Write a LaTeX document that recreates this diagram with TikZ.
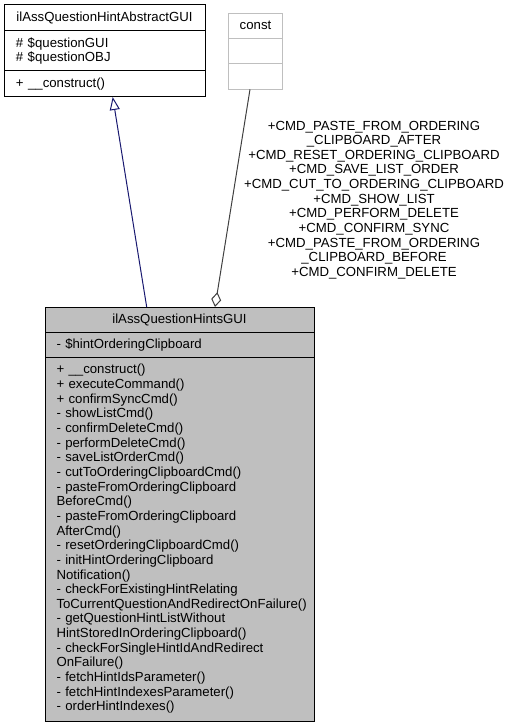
\documentclass[tikz,border=0pt]{standalone}
\usepackage{fontspec}
\usepackage{tikz}
\usetikzlibrary{arrows.meta,
                positioning}
\newfontfamily\dxsans{Liberation Sans}
\newcommand{\dxfont}{\dxsans\fontsize{13.2}{14.65}\selectfont}
\definecolor{grey75}{RGB}{191,191,191}
\definecolor{grey25}{RGB}{64,64,64}
\definecolor{midnightblue}{RGB}{25,25,112}
\tikzset{
        classrow/.style={draw, rectangle, outer sep=0pt, inner ysep=0pt,
                         line width=1pt, font=\dxfont},
        absrow/.style={classrow, inner xsep=12pt, text width=177pt, align=left},
        abstitle/.style={absrow, align=center, minimum height=26pt},
        hintrow/.style={classrow, fill=grey75, inner xsep=11.5pt, text width=246pt,
                        align=left},
        hinttitle/.style={hintrow, align=center, minimum height=25pt},
        constrow/.style={classrow, draw=grey75, inner xsep=0pt, text width=54.4pt,
                         align=center, minimum height=25pt},
        inherit/.style={-{Triangle[open, length=13pt, width=10pt]}, midnightblue,
                        line width=1pt},
        aggr/.style={-{Diamond[open, length=15pt, width=10pt]}, grey25,
                     line width=1pt},
        edgelabel/.style={align=center, font=\dxfont, inner sep=0pt},
 }
\begin{document}
\begin{tikzpicture}
    \useasboundingbox (0pt,0pt) rectangle (513pt,-727pt);

    \node[abstitle, anchor=north west] (abstractTitle) at (4pt,-5pt) {ilAssQuestionHintAbstractGUI};
    \node[absrow, minimum height=40pt, below=0pt of abstractTitle] (abstractAttr) {\# \$questionGUI\\\# \$questionOBJ};
    \node[absrow, minimum height=26pt, below=0pt of abstractAttr] (abstractOps) {+ \_\_construct()};

    \node[constrow, anchor=north west] (constTitle) at (228.3pt,-13.3pt) {const};
    \node[constrow, below=0pt of constTitle] (constAttr) {};
    \node[constrow, minimum height=26pt, below=0pt of constAttr] (constOps) {};

    \node[hinttitle, anchor=north west] (hintsTitle) at (45pt,-307pt) {ilAssQuestionHintsGUI};
    \node[hintrow, minimum height=25pt, below=0pt of hintsTitle] (hintsAttr) {- \$hintOrderingClipboard};
    \node[hintrow, minimum height=364pt, below=0pt of hintsAttr] (hintsOps) {+ \_\_construct()\\
        + executeCommand()\\
        + confirmSyncCmd()\\
        - showListCmd()\\
        - confirmDeleteCmd()\\
        - performDeleteCmd()\\
        - saveListOrderCmd()\\
        - cutToOrderingClipboardCmd()\\
        - pasteFromOrderingClipboard\\
        BeforeCmd()\\
        - pasteFromOrderingClipboard\\
        AfterCmd()\\
        - resetOrderingClipboardCmd()\\
        - initHintOrderingClipboard\\
        Notification()\\
        - checkForExistingHintRelating\\
        ToCurrentQuestionAndRedirectOnFailure()\\
        - getQuestionHintListWithout\\
        HintStoredInOrderingClipboard()\\
        - checkForSingleHintIdAndRedirect\\
        OnFailure()\\
        - fetchHintIdsParameter()\\
        - fetchHintIndexesParameter()\\
        - orderHintIndexes()};

    \draw[inherit] ([xshift=101.7pt]hintsTitle.north west) -- ([xshift=108.7pt]abstractOps.south west);
    \draw[aggr] ([xshift=21.7pt]constOps.south west) -- ([xshift=170pt]hintsTitle.north west);

    \node[edgelabel] (constLabel) at (374pt,-200pt) {+CMD\_PASTE\_FROM\_ORDERING\\
        \_CLIPBOARD\_AFTER\\
        +CMD\_RESET\_ORDERING\_CLIPBOARD\\
        +CMD\_SAVE\_LIST\_ORDER\\
        +CMD\_CUT\_TO\_ORDERING\_CLIPBOARD\\
        +CMD\_SHOW\_LIST\\
        +CMD\_PERFORM\_DELETE\\
        +CMD\_CONFIRM\_SYNC\\
        +CMD\_PASTE\_FROM\_ORDERING\\
        \_CLIPBOARD\_BEFORE\\
        +CMD\_CONFIRM\_DELETE};
\end{tikzpicture}
\end{document}
